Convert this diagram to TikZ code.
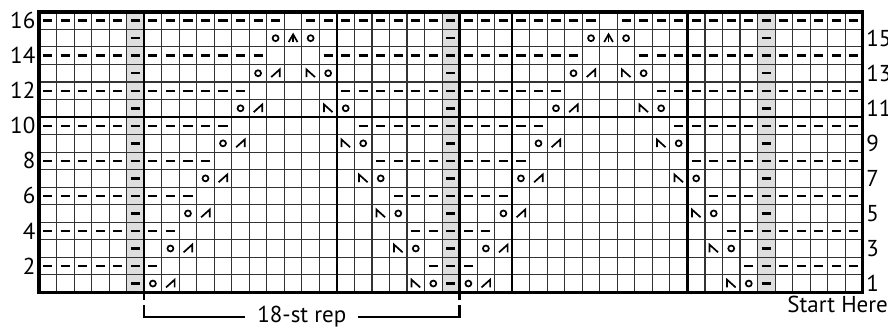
\documentclass[tikz,border=0pt]{standalone}
\usepackage{fontspec}
\setmainfont{PT Sans}
\usetikzlibrary{calc}

\tikzset{
  gridthin/.style={line width=1.1pt, black!80},
  gridthick/.style={line width=2.6pt, black},
  chartborder/.style={line width=3.4pt, black, line join=miter},
  shadecol/.style={fill=black!13},
  lbl/.style={font=\fontsize{23}{26}\selectfont, inner sep=0pt},
  sym/.style={line width=1.7pt, line cap=butt, line join=miter},
  pics/purl/.style={code={\draw[line width=2.5pt] (-0.26,0) -- (0.26,0);}},
  pics/yo/.style={code={\draw[sym] (0,0) circle (0.17);}},
  pics/ktog/.style={code={\draw[sym] (-0.25,-0.22) -- (0.24,0.22) -- (0.24,-0.22);}},
  pics/sskd/.style={code={\draw[sym] (-0.24,-0.22) -- (-0.24,0.22) -- (0.25,-0.22);}},
  pics/cdd/.style={code={\draw[sym] (-0.25,-0.22) -- (0,0.22) -- (0.25,-0.22);
                          \draw[sym] (0,0.22) -- (0,-0.22);}},
}

\begin{document}
\begin{tikzpicture}[x=1pt, y=-1pt]

  % chart: 47 sts x 16 rows, one cell = 17.525px
  \begin{scope}[shift={(39,292.3)}, x=17.525pt, y=17.525pt]

    %% shaded purl columns
    \foreach \c in {6,24,42}
      \fill[shadecol] (\c-1,0) rectangle (\c,16);

    %% grid
    \draw[gridthin, step=1] (0,0) grid (47,16);
    \foreach \k in {6,17,24,27,37}
      \draw[gridthick] (\k,0) -- (\k,16);
    \draw[gridthick] (0,10) -- (47,10);
    \draw[chartborder] (0,0) rectangle (47,16);

    %% purl columns, every row
    \foreach \c in {6,24,42}
      \foreach \r in {1,...,16}
        \pic at (\c-0.5,\r-0.5) {purl};

    %% edge sts, even rows
    \foreach \r in {2,4,...,16}
      \foreach \c in {1,...,5,43,44,45,46,47}
        \pic at (\c-0.5,\r-0.5) {purl};

    %% the two 17-st panels
    \foreach \o in {6,24}{
      \foreach \r in {1,...,8}{
        \pgfmathtruncatemacro{\s}{18-\r}
        % RS row 2r-1
        \pic at (\o+\r-0.5,2*\r-1.5) {yo};
        \pic at (\o+18-\r-0.5,2*\r-1.5) {yo};
        \ifnum\r<8
          \pic at (\o+\r+0.5,2*\r-1.5) {ktog};
          \pic at (\o+17-\r-0.5,2*\r-1.5) {sskd};
        \else
          \pic at (\o+8.5,2*\r-1.5) {cdd};
        \fi
        % WS row 2r
        \foreach \c in {1,...,\r}
          \pic at (\o+\c-0.5,2*\r-0.5) {purl};
        \foreach \c in {\s,...,17}
          \pic at (\o+\c-0.5,2*\r-0.5) {purl};
      }
    }

    %% row numbers
    \foreach \r in {2,4,...,16}
      \node[lbl, anchor=east] (row\r) at (-0.2,\r-0.5) {\r};
    \foreach \r in {1,3,...,15}
      \node[lbl, anchor=west] (row\r) at (47.2,\r-0.5) {\r};

    %% repeat bracket
    \draw[gridthick] (6,0) -- (6,-0.45);
    \draw[gridthick] (24,0) -- (24,-0.45);
    \coordinate (repL) at (6,-1.41);
    \coordinate (repR) at (24,-1.41);
    \draw[gridthick, line join=miter] (6,-0.75) -- (repL) -- (repR) -- (24,-0.75);
    \node[lbl, fill=white, inner xsep=12pt, inner ysep=1pt] (rep) at ($(repL)!0.5!(repR)$) {18-st rep};

    \node[lbl, anchor=base east] (start) at (48.45,-1.14) {Start Here};
  \end{scope}

  \pgfresetboundingbox
  \path[use as bounding box] (0,0) rectangle (888,328);
\end{tikzpicture}
\end{document}
